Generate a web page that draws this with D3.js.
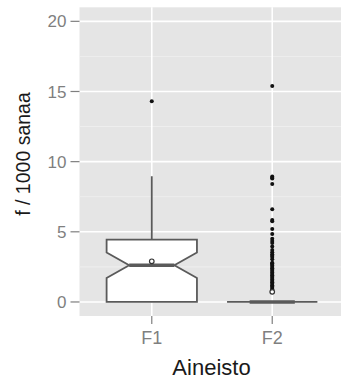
<!DOCTYPE html>
<html>
<head>
<meta charset="utf-8">
<script src="https://cdn.jsdelivr.net/npm/d3@7"></script>
<style>
  body { margin: 0; background: #fff; }
  svg { display: block; font-family: "Liberation Sans", Arial, sans-serif; }
</style>
</head>
<body>
<svg id="chart" width="341" height="379"></svg>
<script>
// data
const categories = ["F1", "F2"];
const q1 = [0, 0];
const medians = [2.62, 0];
const q3 = [4.45, 0];
const notchLo = [1.71, 0];
const notchHi = [3.53, 0];
const whiskerHi = [8.96, 0];
const means = [2.9, 0.72];
const outliersF1 = [14.3];
const outliersF2 = [15.4, 8.95, 8.85, 8.8, 8.4, 6.6, 5.85, 5.75, 5.2, 4.85, 4.5, 4.35, 4.2,
  3.95, 3.7, 3.55, 3.4, 3.3, 3.2, 3.05, 2.8, 2.75, 2.7, 2.6, 2.5, 2.4, 2.3, 2.2, 2.1, 2.0,
  1.9, 1.8, 1.7, 1.6, 1.5, 1.4, 1.3, 1.2, 1.1, 1.0, 0.9, 0.8, 0.7];
const outliers = [outliersF1, outliersF2];
const yTicks = [0, 5, 10, 15, 20];
const yMinor = [2.5, 7.5, 12.5, 17.5];

const svg = d3.select("#chart");
const pLeft = 79.5, pRight = 344.5, pTop = 7.3, pBottom = 316;

// discrete x with ggplot-ish 0.6 expansion
const x = d3.scaleLinear().domain([0.4, 2.6]).range([pLeft, pRight]);
const xPos = i => x(i + 1);
const unit = x(1) - x(0);
const y = d3.scaleLinear().domain([-1, 21]).range([pBottom, pTop]);

// panel
svg.append("rect")
  .attr("x", pLeft).attr("y", pTop)
  .attr("width", pRight - pLeft).attr("height", pBottom - pTop)
  .attr("fill", "#e5e5e5");

svg.selectAll(".minor")
  .data(yMinor)
  .enter().append("line")
  .attr("x1", pLeft).attr("x2", pRight)
  .attr("y1", d => y(d)).attr("y2", d => y(d))
  .attr("stroke", "#f0f0f0").attr("stroke-width", 0.8);

svg.selectAll(".major")
  .data(yTicks)
  .enter().append("line")
  .attr("x1", pLeft).attr("x2", pRight)
  .attr("y1", d => y(d)).attr("y2", d => y(d))
  .attr("stroke", "#fff").attr("stroke-width", 1.6);

svg.selectAll(".vmajor")
  .data(categories)
  .enter().append("line")
  .attr("x1", (d, i) => xPos(i)).attr("x2", (d, i) => xPos(i))
  .attr("y1", pTop).attr("y2", pBottom)
  .attr("stroke", "#fff").attr("stroke-width", 1.6);

// y axis ticks + labels
const yAxis = svg.append("g");
yTicks.forEach(t => {
  yAxis.append("line")
    .attr("x1", pLeft - 9).attr("x2", pLeft)
    .attr("y1", y(t)).attr("y2", y(t))
    .attr("stroke", "#7f7f7f").attr("stroke-width", 1.2);
  yAxis.append("text")
    .attr("x", pLeft - 13).attr("y", y(t))
    .attr("dy", "0.36em")
    .attr("text-anchor", "end")
    .attr("font-size", 17)
    .attr("fill", "#7f7f7f")
    .text(t);
});

// x axis ticks + labels
const xAxis = svg.append("g");
categories.forEach((c, i) => {
  xAxis.append("line")
    .attr("x1", xPos(i)).attr("x2", xPos(i))
    .attr("y1", pBottom).attr("y2", pBottom + 8)
    .attr("stroke", "#7f7f7f").attr("stroke-width", 1.2);
  xAxis.append("text")
    .attr("x", xPos(i)).attr("y", 344)
    .attr("text-anchor", "middle")
    .attr("font-size", 18)
    .attr("fill", "#7f7f7f")
    .text(c);
});

// titles
svg.append("text")
  .attr("x", 211.5).attr("y", 375)
  .attr("text-anchor", "middle")
  .attr("font-size", 22)
  .attr("fill", "#1a1a1a")
  .text("Aineisto");

svg.append("text")
  .attr("transform", "translate(29.5, 154) rotate(-90)")
  .attr("text-anchor", "middle")
  .attr("font-size", 19.5)
  .attr("fill", "#1a1a1a")
  .text("f / 1000 sanaa");

// boxes
const boxColor = "#5a5a5a";
const g = svg.append("g");
categories.forEach((c, i) => {
  const cx = xPos(i);
  const hw = 0.375 * unit;
  const nw = hw * 0.5;

  // whisker
  g.append("line")
    .attr("x1", cx).attr("x2", cx)
    .attr("y1", y(q3[i])).attr("y2", y(whiskerHi[i]))
    .attr("stroke", boxColor).attr("stroke-width", 1.8);

  const pts = [
    [cx - hw, y(q1[i])],
    [cx - hw, y(notchLo[i])],
    [cx - nw, y(medians[i])],
    [cx - hw, y(notchHi[i])],
    [cx - hw, y(q3[i])],
    [cx + hw, y(q3[i])],
    [cx + hw, y(notchHi[i])],
    [cx + nw, y(medians[i])],
    [cx + hw, y(notchLo[i])],
    [cx + hw, y(q1[i])]
  ];
  g.append("path")
    .attr("d", d3.line()(pts) + "Z")
    .attr("fill", "#fff")
    .attr("stroke", boxColor).attr("stroke-width", 1.8)
    .attr("stroke-linejoin", "miter");

  g.append("line")
    .attr("x1", cx - nw).attr("x2", cx + nw)
    .attr("y1", y(medians[i])).attr("y2", y(medians[i]))
    .attr("stroke", boxColor).attr("stroke-width", 3.4);

  g.selectAll(null)
    .data(outliers[i])
    .enter().append("circle")
    .attr("cx", cx).attr("cy", d => y(d))
    .attr("r", 2)
    .attr("fill", "#111");

  g.append("circle")
    .attr("cx", cx).attr("cy", y(means[i]))
    .attr("r", 2.3)
    .attr("fill", "#fff")
    .attr("stroke", "#333").attr("stroke-width", 1.2);
});
</script>
</body>
</html>
